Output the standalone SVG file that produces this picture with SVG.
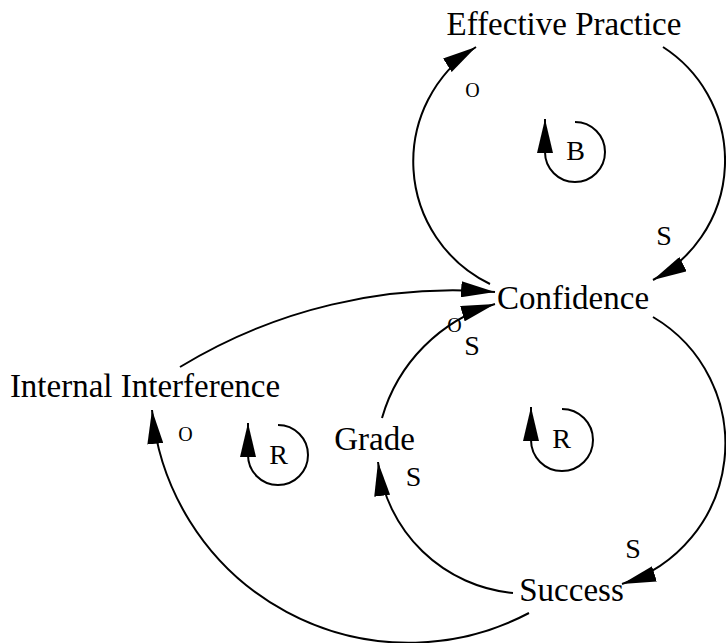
<svg xmlns="http://www.w3.org/2000/svg" width="726" height="643" viewBox="0 0 726 643" font-family="'Liberation Serif', Tinos, 'Times New Roman', Times, 'DejaVu Serif', serif">
<style>
text{font-family:"Liberation Serif",Tinos,"Times New Roman",Times,"DejaVu Serif",serif;fill:#000;text-anchor:middle}
.node{font-size:33px}
.pol{font-size:28px}
.o{font-size:20px}
.loop{font-size:28px}
.c{fill:none;stroke:#000;stroke-width:2;marker-end:url(#ah)}
</style>
<defs>
<marker id="ah" markerUnits="userSpaceOnUse" viewBox="0 0 34 16" refX="34" refY="8" markerWidth="34" markerHeight="16" orient="auto">
<path d="M0,0 L34,8 L0,16 z" fill="#000"/>
</marker>
</defs>
<rect width="726" height="643" fill="#fff"/>
<g id="connectors">
<path class="c" d="M490,284 A136,136 0 0 1 476,47"/>
<path class="c" d="M663,47 A135,135 0 0 1 653,280"/>
<path class="c" d="M180,367 A525,525 0 0 1 495,292"/>
<path class="c" d="M382,418 A167,167 0 0 1 495,304"/>
<path class="c" d="M653,317 A147,147 0 0 1 622,584"/>
<path class="c" d="M513,593 A150,150 0 0 1 378,462"/>
<path class="c" d="M529,613 A258,258 0 0 1 152,410"/>
<text class="o" x="472.5" y="97">O</text>
<text class="pol" x="664" y="245">S</text>
<text class="o" x="185.5" y="441">O</text>
<text class="o" x="454.5" y="332">O</text>
<text class="pol" x="472" y="355">S</text>
<text class="pol" x="413.5" y="486">S</text>
<text class="pol" x="633" y="558">S</text>
</g>
<g id="effective-practice"><text class="node" x="564" y="35">Effective Practice</text></g>
<g id="confidence"><text class="node" x="573" y="309">Confidence</text></g>
<g id="internal-interference"><text class="node" x="145" y="397">Internal Interference</text></g>
<g id="grade"><text class="node" x="374.5" y="450">Grade</text></g>
<g id="success"><text class="node" x="571.5" y="601">Success</text></g>
<g id="loop-b">
<path class="c" d="M575,122 A30,30 0 1 1 545,152 L545,119"/>
<text class="loop" x="575.5" y="160">B</text>
</g>
<g id="loop-r1">
<path class="c" d="M278,425 A30,30 0 1 1 248,455 L248,423"/>
<text class="loop" x="278.5" y="464">R</text>
</g>
<g id="loop-r2">
<path class="c" d="M562,409 A31,31 0 1 1 531,440 L531,407"/>
<text class="loop" x="561.5" y="448">R</text>
</g>
</svg>
